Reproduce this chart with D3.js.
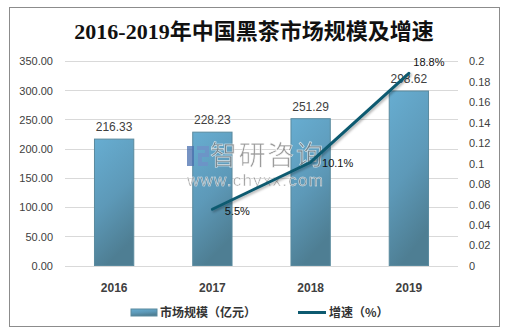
<!DOCTYPE html>
<html>
<head>
<meta charset="utf-8">
<script src="https://cdn.jsdelivr.net/npm/d3@7"></script>
<style>
  body { margin: 0; background: #fff; }
  svg text { font-family: "Liberation Sans", "Noto Sans CJK SC", sans-serif; }
</style>
</head>
<body>
<div id="chart"></div>
<script>
const years = ['2016', '2017', '2018', '2019']
const marketSize = [216.33, 228.23, 251.29, 298.62]
const growthYears = ['2017', '2018', '2019']
const growthRate = [0.055, 0.101, 0.188]
const growthLabels = ['5.5%', '10.1%', '18.8%']
const leftTicks = [0, 50, 100, 150, 200, 250, 300, 350]
const rightTicks = [0, 0.02, 0.04, 0.06, 0.08, 0.1, 0.12, 0.14, 0.16, 0.18, 0.2]

const W = 509, H = 333
const plot = {left: 65, right: 458, top: 61, bottom: 265.5}

const svg = d3.select('#chart').append('svg')
  .attr('width', W).attr('height', H)

// outer frame
svg.append('rect')
  .attr('x', 9.5).attr('y', 7.5)
  .attr('width', 490).attr('height', 319)
  .attr('fill', 'none').attr('stroke', '#8c8c8c').attr('stroke-width', 1)

svg.append('text')
  .attr('x', 254).attr('y', 39)
  .attr('text-anchor', 'middle')
  .style('font-family', '"Liberation Serif", "Noto Sans CJK SC", serif')
  .style('font-size', '22px').style('font-weight', 'bold')
  .attr('fill', '#111')
  .text('2016-2019年中国黑茶市场规模及增速')

const defs = svg.append('defs')
const grad = defs.append('linearGradient').attr('id', 'barFill')
  .attr('x1', 0).attr('y1', 0).attr('x2', 0.3).attr('y2', 1)
grad.append('stop').attr('offset', '0%').attr('stop-color', '#67add1')
grad.append('stop').attr('offset', '55%').attr('stop-color', '#5d99b8')
grad.append('stop').attr('offset', '100%').attr('stop-color', '#4e7e93')

const shadow = defs.append('filter').attr('id', 'lineShadow')
  .attr('x', '-10%').attr('y', '-10%').attr('width', '130%').attr('height', '130%')
shadow.append('feDropShadow').attr('dx', 1.5).attr('dy', 1.5).attr('stdDeviation', 1)
  .attr('flood-color', '#000').attr('flood-opacity', 0.3)

const x = d3.scaleBand().domain(years)
  .range([plot.left, plot.right]).paddingInner(0.6).paddingOuter(0.3)
const y = d3.scaleLinear().domain([0, 350]).range([plot.bottom, plot.top])
const y2 = d3.scaleLinear().domain([0, 0.2]).range([plot.bottom, plot.top])

// gridlines
svg.append('g').selectAll('line')
  .data(leftTicks).enter().append('line')
  .attr('x1', plot.left).attr('x2', plot.right)
  .attr('y1', d => Math.round(y(d)) + 0.5).attr('y2', d => Math.round(y(d)) + 0.5)
  .attr('stroke', '#d9d9d9')

// left axis
const leftAxis = svg.append('g')
  .attr('transform', 'translate(' + (plot.left - 12) + ',0)')
  .call(d3.axisLeft(y).tickValues(leftTicks).tickFormat(d3.format('.2f')).tickSize(0).tickPadding(0))
leftAxis.select('.domain').remove()
leftAxis.selectAll('text').style('font-size', '11px').attr('fill', '#404040').attr('dy', '0.35em')

// right axis
const rightAxis = svg.append('g')
  .attr('transform', 'translate(' + (plot.right + 11) + ',0)')
  .call(d3.axisRight(y2).tickValues(rightTicks).tickFormat(d => String(+d.toFixed(2))).tickSize(0).tickPadding(0))
rightAxis.select('.domain').remove()
rightAxis.selectAll('text').style('font-size', '11px').attr('fill', '#404040').attr('dy', '0.35em')

// category axis
const xAxis = svg.append('g')
  .attr('transform', 'translate(0,' + (plot.bottom + 18) + ')')
  .call(d3.axisBottom(x).tickSize(0).tickPadding(0))
xAxis.select('.domain').remove()
xAxis.selectAll('text').style('font-size', '12px').style('font-weight', 'bold').attr('fill', '#404040')

// bars
svg.append('g').selectAll('rect')
  .data(years).enter().append('rect')
  .attr('x', d => x(d))
  .attr('y', (d, i) => y(marketSize[i]))
  .attr('width', x.bandwidth())
  .attr('height', (d, i) => plot.bottom - y(marketSize[i]))
  .attr('fill', 'url(#barFill)')
  .attr('stroke', '#5a8a9e').attr('stroke-width', 1)

svg.append('g').selectAll('text')
  .data(years).enter().append('text')
  .attr('x', d => x(d) + x.bandwidth() / 2)
  .attr('y', (d, i) => y(marketSize[i]) - 8)
  .attr('text-anchor', 'middle')
  .style('font-size', '12px').attr('fill', '#404040')
  .text((d, i) => marketSize[i].toFixed(2))

// watermark
const wm = svg.append('g').attr('opacity', 0.75)
wm.append('rect').attr('x', 187).attr('y', 146).attr('width', 7).attr('height', 20).attr('fill', '#4a6fb0')
wm.append('path').attr('d', 'M197,148 h10 v7 h-7 v9 h8')
  .attr('fill', 'none').attr('stroke', '#7090c8').attr('stroke-width', 4)
wm.append('text').attr('x', 210).attr('y', 165)
  .style('font-family', '"Noto Sans CJK SC", sans-serif').style('font-size', '27px')
  .attr('fill', '#7c7c7c').attr('stroke', '#fff').attr('stroke-width', 0.6)
  .attr('textLength', 113)
  .text('智研咨询')
wm.append('text').attr('x', 187).attr('y', 186)
  .style('font-size', '17px').attr('fill', '#7c7c7c')
  .attr('stroke', '#fff').attr('stroke-width', 0.5)
  .attr('textLength', 136)
  .text('www.chyxx.com')

// growth line
const line = d3.line()
  .x((d, i) => x(growthYears[i]) + x.bandwidth() / 2)
  .y(d => y2(d))
svg.append('path')
  .datum(growthRate)
  .attr('d', line)
  .attr('fill', 'none')
  .attr('stroke', '#0d5a70').attr('stroke-width', 3)
  .attr('stroke-linecap', 'round')
  .attr('filter', 'url(#lineShadow)')

const labelOffsets = [[25, 6], [27, 5], [20, -7]]
svg.append('g').selectAll('text')
  .data(growthRate).enter().append('text')
  .attr('x', (d, i) => x(growthYears[i]) + x.bandwidth() / 2 + labelOffsets[i][0])
  .attr('y', (d, i) => y2(d) + labelOffsets[i][1])
  .attr('text-anchor', 'middle')
  .style('font-size', '11px').attr('fill', '#111')
  .text((d, i) => growthLabels[i])

// legend
const legend = svg.append('g')
legend.append('rect').attr('x', 131).attr('y', 309).attr('width', 26).attr('height', 7)
  .attr('fill', 'url(#barFill)').attr('stroke', '#5a8a9e')
legend.append('text').attr('x', 160).attr('y', 317)
  .style('font-family', '"Noto Sans CJK SC", sans-serif')
  .style('font-size', '12px').style('font-weight', 'bold').attr('fill', '#333')
  .text('市场规模（亿元）')
legend.append('line').attr('x1', 298).attr('x2', 326).attr('y1', 312.5).attr('y2', 312.5)
  .attr('stroke', '#0d5a70').attr('stroke-width', 3)
legend.append('text').attr('x', 329).attr('y', 317)
  .style('font-family', '"Noto Sans CJK SC", sans-serif')
  .style('font-size', '12px').style('font-weight', 'bold').attr('fill', '#333')
  .text('增速（%）')
</script>
</body>
</html>
